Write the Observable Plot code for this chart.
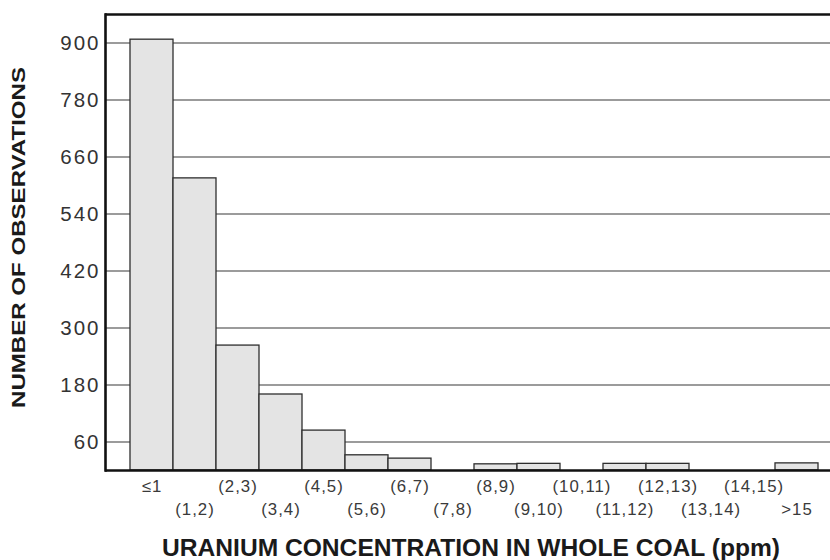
<!DOCTYPE html>
<html>
<head>
<meta charset="utf-8">
<script src="https://cdn.jsdelivr.net/npm/d3@7"></script>
<script src="https://cdn.jsdelivr.net/npm/@observablehq/plot@0.6"></script>
<style>
  html, body { margin: 0; padding: 0; background: #fff; overflow: hidden; }
  svg { display: block; }
</style>
</head>
<body>
<div id="chart"></div>
<script>
const categories = ["≤1", "(1,2)", "(2,3)", "(3,4)", "(4,5)", "(5,6)", "(6,7)", "(7,8)",
  "(8,9)", "(9,10)", "(10,11)", "(11,12)", "(12,13)", "(13,14)", "(14,15)", ">15"];
const counts = [907, 615, 263, 160, 84, 32, 25, 0, 13, 14, 0, 14, 14, 0, 0, 15];
const yTicks = [60, 180, 300, 420, 540, 660, 780, 900];
const yMax = 960;
const xTitle = "URANIUM CONCENTRATION IN WHOLE COAL (ppm)";
const yTitle = "NUMBER OF OBSERVATIONS";

const data = categories.map((c, i) => ({cat: c, n: counts[i], i}));

const chart = Plot.plot({
  width: 830,
  height: 560,
  marginLeft: 105,
  marginRight: 0,
  marginTop: 14,
  marginBottom: 90,
  style: {fontFamily: "'Liberation Sans', Arial, sans-serif", color: "#2a2a2a", background: "#fff"},
  x: {type: "band", domain: categories, padding: 0, insetLeft: 22.7, insetRight: 10, axis: null},
  y: {domain: [0, yMax], axis: null},
  marks: [
    Plot.ruleY(yTicks, {stroke: "#7a7a7a", strokeWidth: 1.6}),
    Plot.barY(data.filter(d => d.n > 0), {x: "cat", y: "n", fill: "#e4e4e4", stroke: "#2e2e2e", strokeWidth: 1.3}),
    Plot.ruleY([0], {stroke: "#111", strokeWidth: 2.6}),
    Plot.ruleY([yMax], {stroke: "#111", strokeWidth: 2.6}),
    Plot.frame({anchor: "left", stroke: "#111", strokeWidth: 2.6}),
    Plot.axisY({ticks: yTicks, tickSize: 0, tickPadding: 5, fontSize: 20.5, label: null, fill: "#333"}),
    Plot.text(data.filter(d => d.i % 2 === 0), {x: "cat", text: "cat", frameAnchor: "bottom", lineAnchor: "middle", dy: 16.5, fontSize: 16.8, fill: "#3a3a3a"}),
    Plot.text(data.filter(d => d.i % 2 === 1), {x: "cat", text: "cat", frameAnchor: "bottom", lineAnchor: "middle", dy: 39.5, fontSize: 16.8, fill: "#3a3a3a"}),
    Plot.text([xTitle], {text: d => d, frameAnchor: "bottom", lineAnchor: "middle", dy: 77.5, dx: 3, fontSize: 24.6, fontWeight: "bold", fill: "#1a1a1a", className: "xtitle"}),
    Plot.text([yTitle], {text: d => d, frameAnchor: "left", textAnchor: "middle", lineAnchor: "middle", rotate: -90, dx: -86, dy: -5, fontSize: 17.5, fontWeight: "bold", fill: "#1a1a1a", className: "ytitle"})
  ]
});

// letter spacing tweaks
d3.select(chart).selectAll("g[aria-label='y-axis tick label'] text").attr("letter-spacing", "2px");
d3.select(chart).selectAll(".ytitle text").attr("textLength", 341).attr("lengthAdjust", "spacingAndGlyphs");
d3.select(chart).selectAll("g[aria-label='text'] text").filter(function() { return !this.closest(".xtitle") && !this.closest(".ytitle"); }).attr("letter-spacing", "1px");

document.getElementById("chart").appendChild(chart);
</script>
</body>
</html>
